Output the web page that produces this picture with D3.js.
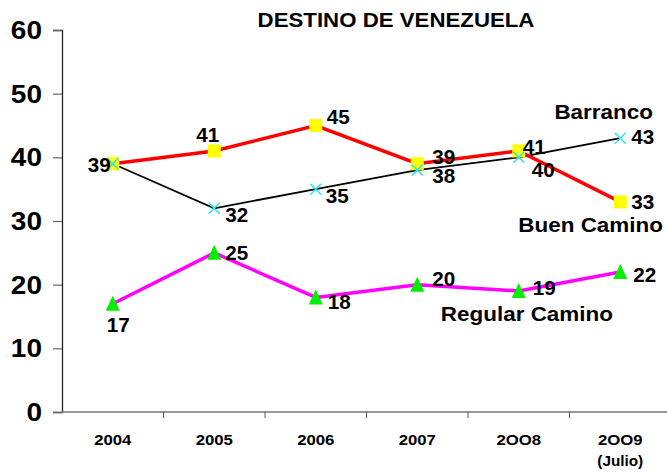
<!DOCTYPE html>
<html lang="en">
<head>
<meta charset="UTF-8">
<script src="https://cdnjs.cloudflare.com/ajax/libs/d3/7.8.5/d3.min.js"></script>
<style>
  body { margin: 0; background: #fff; }
  text { font-family: "Liberation Sans", Arial, sans-serif; font-weight: bold; fill: #000; }
</style>
</head>
<body>
<script>
// categories + series
const years = ["2004", "2005", "2006", "2007", "2OO8", "2OO9"];
const buenCamino = [39, 41, 45, 39, 41, 33];
const barranco = [39, 32, 35, 38, 40, 43];
const regularCamino = [17, 25, 18, 20, 19, 22];
const yTicks = [0, 10, 20, 30, 40, 50, 60];
const seriesNames = ["Barranco", "Buen Camino", "Regular Camino"];

const width = 667, height = 472;
const left = 62;

const svg = d3.select("body").append("svg")
    .attr("width", width)
    .attr("height", height);

// x band runs a bit off the right edge, like in the original
let x = d3.scaleBand().domain(years).range([left, left + 6 * 101.5]);
let y = d3.scaleLinear().domain([0, 60]).range([412, 30]);
let cx = d => x(d) + x.bandwidth() / 2;

// text helper, the original text is a little wide so stretch it
function txt(px, py, s, size, anchor, sx) {
  return svg.append("text")
    .attr("transform", `translate(${px},${py}) scale(${sx || 1},1)`)
    .attr("text-anchor", anchor || "start")
    .attr("font-size", size + "px")
    .text(s);
}

txt(396, 27, "DESTINO DE VENEZUELA", 21, "middle", 1.06);

// y axis (labels drawn by hand below)
let yAxis = svg.append("g")
    .attr("transform", `translate(${left},0)`)
    .call(d3.axisLeft(y).tickValues(yTicks).tickSize(9).tickFormat(""));
yAxis.select(".domain").attr("stroke", "#222").attr("stroke-width", 1.3);
yAxis.selectAll(".tick line").attr("stroke", "#666").attr("stroke-width", 1.2);
yTicks.forEach(t => txt(42, y(t) + 9, t, 25, "end", 1.12));

// x axis, ticks sit between the categories
let xAxis = svg.append("g").attr("transform", "translate(0,412)");
xAxis.append("line")
    .attr("x1", left).attr("x2", width)
    .attr("stroke", "#777").attr("stroke-width", 1.5);
xAxis.selectAll(".xt").data(years.slice(1)).enter().append("line")
    .attr("class", "xt")
    .attr("x1", d => x(d)).attr("x2", d => x(d))
    .attr("y1", 0).attr("y2", 6)
    .attr("stroke", "#555");
years.forEach(d => txt(cx(d), 445, d, 15.5, "middle", 1.08));
txt(cx(years[5]), 466, "(Julio)", 15, "middle", 1.02);

let line = d3.line().x((d, i) => cx(years[i])).y(d => y(d));

// Barranco line (black)
svg.append("path").datum(barranco)
    .attr("d", line).attr("fill", "none")
    .attr("stroke", "#000").attr("stroke-width", 1.8);

// Buen Camino (red line, yellow squares)
svg.append("path").datum(buenCamino)
    .attr("d", line).attr("fill", "none")
    .attr("stroke", "#ff0000").attr("stroke-width", 3.5);
svg.selectAll(".sq").data(buenCamino).enter().append("rect")
    .attr("class", "sq")
    .attr("x", (d, i) => cx(years[i]) - 6.5)
    .attr("y", d => y(d) - 6.5)
    .attr("width", 13).attr("height", 13)
    .attr("fill", "#ffff00");

// Barranco crosses
svg.selectAll(".cr").data(barranco).enter().append("path")
    .attr("class", "cr")
    .attr("transform", (d, i) => `translate(${cx(years[i])},${y(d)})`)
    .attr("d", "M-5.5,-5.5L5.5,5.5M-5.5,5.5L5.5,-5.5")
    .attr("stroke", "#22e8f5").attr("stroke-width", 1.5);

// Regular Camino (magenta line, green triangles)
svg.append("path").datum(regularCamino)
    .attr("d", line).attr("fill", "none")
    .attr("stroke", "#ff00ff").attr("stroke-width", 3.5);
svg.selectAll(".tri").data(regularCamino).enter().append("path")
    .attr("class", "tri")
    .attr("transform", (d, i) => `translate(${cx(years[i])},${y(d)})`)
    .attr("d", "M0,-8L7,7L-7,7Z")
    .attr("fill", "#00ee00");

// value labels, offsets from the point picked by eye (null = no label)
const buenOff = [[-2, 8.5], [-18, -9], [11, -1.5], [15, 0], [4, 3], [11, 7]];
const barrOff = [null, [11, 14], [10, 14], [15, 13], [13, 20], [11, 6]];
const regOff = [[-6, 28], [11, 7], [12, 12], [15, 1], [14, 3.5], [13, 10]];

[[buenCamino, buenOff], [barranco, barrOff], [regularCamino, regOff]].forEach(([data, off]) => {
  data.forEach((v, i) => {
    if (!off[i]) return;
    // first Buen Camino label hangs to the left of its point
    let anchor = (data === buenCamino && i === 0) ? "end" : "start";
    txt(cx(years[i]) + off[i][0], y(v) + off[i][1], v, 19.5, anchor, 1.06);
  });
});

// series names
txt(653, 119, seriesNames[0], 21, "end", 1.07);
txt(663, 232, seriesNames[1], 21, "end", 1.07);
txt(613, 321, seriesNames[2], 21, "end", 1.07);
</script>
</body>
</html>
